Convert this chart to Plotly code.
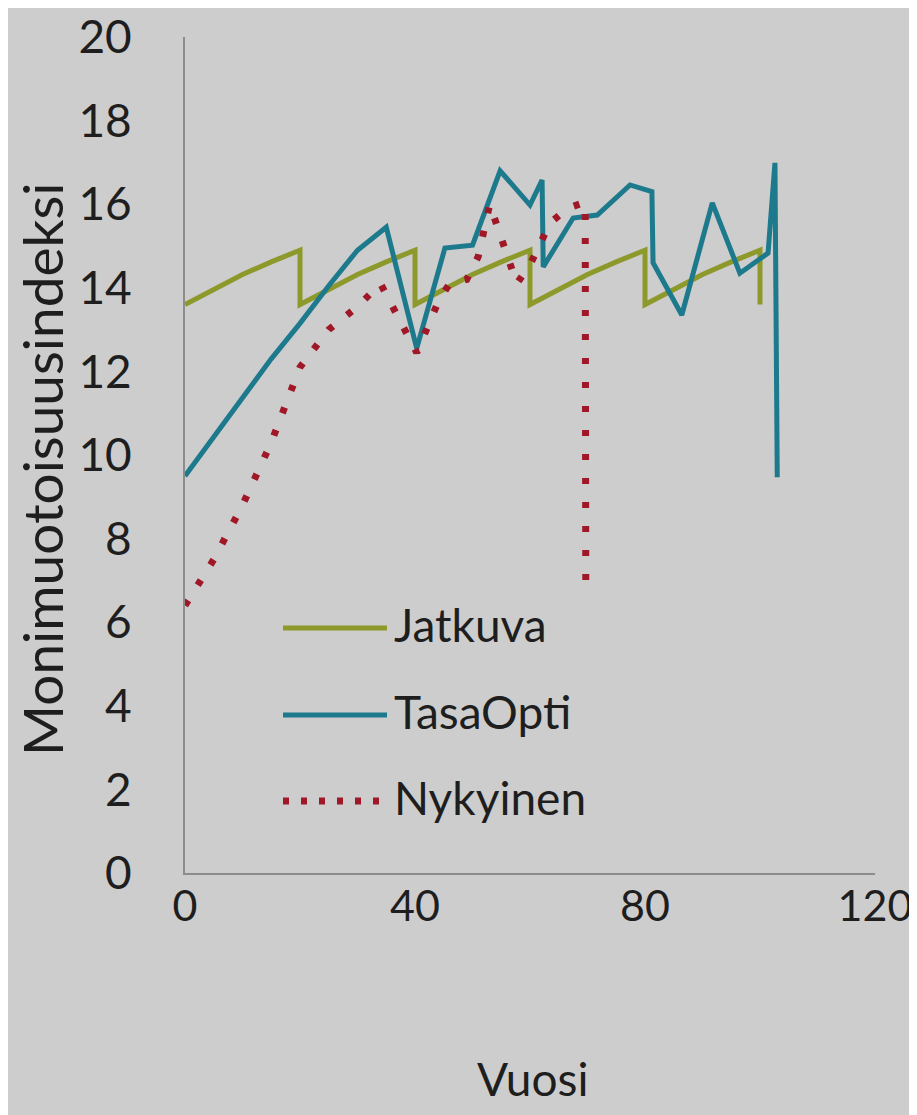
import plotly.graph_objects as go

# ---- data ----
jatkuva_x = [0, 5, 10, 15, 20, 20, 25, 30, 35, 40, 40, 45, 50, 55, 60, 60,
             65, 70, 75, 80, 80, 85, 90, 95, 100, 100]
jatkuva_y = [13.6, 13.97, 14.32, 14.62, 14.9, 13.6, 13.97, 14.32, 14.62, 14.9,
             13.6, 13.97, 14.32, 14.62, 14.9, 13.6, 13.97, 14.32, 14.62, 14.9,
             13.6, 13.97, 14.32, 14.62, 14.9, 13.6]

tasaopti_x = [0, 5, 10, 15, 20, 25, 30, 35, 40.3, 45.2, 50, 54.8, 60, 62.1, 62.3,
              67.5, 71.7, 77.4, 81.2, 81.4, 86.4, 91.7, 96.5, 101.4, 102.6, 103]
tasaopti_y = [9.5, 10.45, 11.4, 12.3, 13.15, 14.05, 14.9, 15.45, 12.55, 14.95, 15.02,
              16.8, 15.98, 16.58, 14.5, 15.67, 15.74, 16.46, 16.3, 14.6, 13.35,
              16.03, 14.35, 14.83, 16.99, 9.47]

nykyinen_x = [0, 5, 10, 15, 20, 25, 30, 34, 40.3, 44, 46, 49, 51, 53, 57.7, 60,
              63.5, 66.5, 69.6, 69.7]
nykyinen_y = [6.4, 7.5, 8.8, 10.3, 12.1, 13.0, 13.55, 14.1, 12.45, 13.65, 14.1,
              14.2, 14.75, 16.0, 14.1, 14.55, 15.55, 15.9, 16.05, 7.0]

series_names = ["Jatkuva", "TasaOpti", "Nykyinen"]
x_ticks = [0, 40, 80, 120]
y_ticks = [0, 2, 4, 6, 8, 10, 12, 14, 16, 18, 20]
x_title = "Vuosi"
y_title = "Monimuotoisuusindeksi"

# ---- style ----
C_J = "#8d992b"
C_T = "#1d7a8d"
C_N = "#a01828"
BG = "#cdcdcd"
AX = "#8c8c8c"
TXT = "#1e1e1e"
FONT = "Lato"

fig = go.Figure()
fig.add_trace(go.Scatter(x=jatkuva_x, y=jatkuva_y, mode="lines", name=series_names[0],
                         line=dict(color=C_J, width=5), showlegend=False))
fig.add_trace(go.Scatter(x=tasaopti_x, y=tasaopti_y, mode="lines", name=series_names[1],
                         line=dict(color=C_T, width=5), showlegend=False))
fig.add_trace(go.Scatter(x=nykyinen_x, y=nykyinen_y, mode="lines", name=series_names[2],
                         line=dict(color=C_N, width=7, dash="6px,18px"), showlegend=False))

# page offset (default body margin) and target plot box in page pixels
OFF = 8
W, H = 917 - OFF, 1115 - OFF
L, R, T, B = 185, 875, 37, 873

def px(xp):
    return (xp - L) / (R - L)
def py(yp):
    return (B - yp) / (B - T)

legend_rows = [(series_names[0], C_J, 628, "solid", 5),
               (series_names[1], C_T, 715, "solid", 5),
               (series_names[2], C_N, 801, "6px,12px", 7)]
shapes = []
annotations = []
for name, col, yp, dash, w in legend_rows:
    shapes.append(dict(type="line", xref="paper", yref="paper",
                       x0=px(283), x1=px(387), y0=py(yp), y1=py(yp),
                       line=dict(color=col, width=w, dash=dash)))
    annotations.append(dict(text=name, xref="paper", yref="paper",
                            x=px(392), y=py(yp - 4), xanchor="left", yanchor="middle",
                            showarrow=False,
                            font=dict(family=FONT, size=46, color=TXT)))

# axis titles
annotations.append(dict(text=y_title, xref="paper", yref="paper",
                        x=px(42), y=py(470), xanchor="center", yanchor="middle",
                        textangle=-90, showarrow=False,
                        font=dict(family=FONT, size=55, color=TXT)))
annotations.append(dict(text=x_title, xref="paper", yref="paper",
                        x=px(532), y=py(1078), xanchor="center", yanchor="middle",
                        showarrow=False,
                        font=dict(family=FONT, size=46, color=TXT)))

fig.update_layout(
    width=W, height=H,
    margin=dict(l=L - OFF, r=W - (R - OFF), t=T - OFF, b=H - (B - OFF), autoexpand=False),
    paper_bgcolor=BG, plot_bgcolor=BG,
    font=dict(family=FONT, color=TXT),
    shapes=shapes, annotations=annotations,
    showlegend=False,
)
fig.update_xaxes(range=[0, 120], tickvals=x_ticks, showgrid=False, zeroline=False,
                 showline=True, linecolor=AX, linewidth=2, ticks="",
                 automargin=False, ticklabelstandoff=-6,
                 tickfont=dict(family=FONT, size=43, color=TXT))
fig.update_yaxes(range=[0, 20], tickvals=y_ticks, showgrid=False, zeroline=False,
                 showline=True, linecolor=AX, linewidth=2, ticks="",
                 automargin=False, ticklabelstandoff=42,
                 tickfont=dict(family=FONT, size=46, color=TXT))

fig.write_html("out.html")
